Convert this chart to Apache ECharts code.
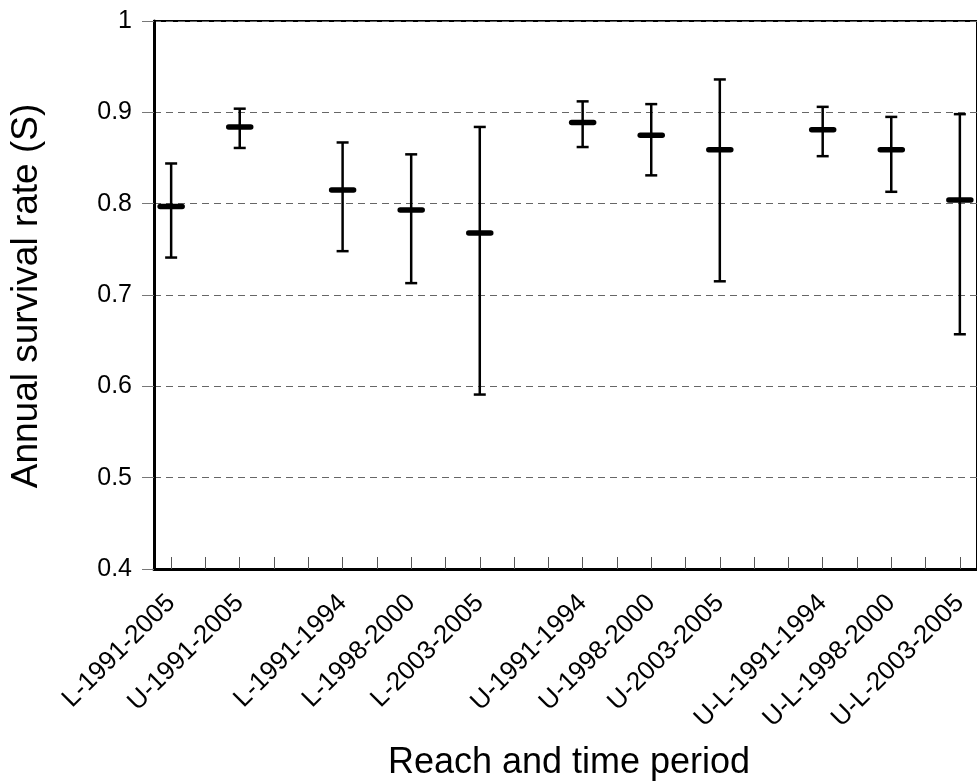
<!DOCTYPE html>
<html>
<head>
<meta charset="utf-8">
<script src="https://cdn.jsdelivr.net/npm/echarts@6/dist/echarts.min.js"></script>
<style>
html,body{margin:0;padding:0;background:#fff;}
#chart{width:977px;height:782px;}
</style>
</head>
<body>
<div id="chart"></div>
<script>
// Category slots (blank slots create the gaps between groups)
const categories = [
  'L-1991-2005','', 'U-1991-2005','','',
  'L-1991-1994','', 'L-1998-2000','', 'L-2003-2005','','',
  'U-1991-1994','', 'U-1998-2000','', 'U-2003-2005','','',
  'U-L-1991-1994','', 'U-L-1998-2000','', 'U-L-2003-2005'
];
const groups = ['L-1991-2005','U-1991-2005','L-1991-1994','L-1998-2000','L-2003-2005',
  'U-1991-1994','U-1998-2000','U-2003-2005','U-L-1991-1994','U-L-1998-2000','U-L-2003-2005'];
const estimates = [0.797, 0.884, 0.815, 0.793, 0.768, 0.889, 0.875, 0.859, 0.881, 0.859, 0.804];
const lowerCI  = [0.741, 0.861, 0.748, 0.713, 0.591, 0.862, 0.831, 0.715, 0.852, 0.813, 0.657];
const upperCI  = [0.844, 0.904, 0.867, 0.854, 0.884, 0.912, 0.909, 0.936, 0.906, 0.895, 0.898];
const yTicks = [0.4, 0.5, 0.6, 0.7, 0.8, 0.9, 1];

const data = groups.map((g, i) => [categories.indexOf(g), lowerCI[i], upperCI[i], estimates[i]]);

const FONT = '"Liberation Sans", Arial, sans-serif';
const chart = echarts.init(document.getElementById('chart'));
chart.setOption({
  animation: false,
  backgroundColor: '#fff',
  grid: { left: 154, top: 21, width: 828, height: 548, show: true, borderColor: '#000', borderWidth: 2, backgroundColor: 'transparent' },
  xAxis: {
    type: 'category',
    data: categories,
    boundaryGap: true,
    axisLine: { lineStyle: { color: '#000', width: 3 } },
    axisTick: { show: true, inside: true, length: 12, alignWithLabel: true, interval: 0, lineStyle: { color: '#555', width: 1 } },
    axisLabel: { interval: 0, rotate: 45, margin: 30, fontSize: 26, color: '#000', fontFamily: FONT },
    splitLine: { show: false }
  },
  yAxis: {
    type: 'value',
    min: 0.4, max: 1, interval: 0.1,
    axisLine: { show: true, lineStyle: { color: '#000', width: 3 } },
    axisTick: { show: true, inside: false, length: 12, lineStyle: { color: '#777', width: 1 } },
    axisLabel: { margin: 22, fontSize: 25, color: '#000', fontFamily: FONT,
      formatter: v => { const r = Math.round(v * 10) / 10; return r === 1 ? '1' : r.toFixed(1); } },
    splitLine: { show: true, lineStyle: { color: '#666', type: [7, 5], width: 1 } }
  },
  series: [{
    type: 'custom',
    data: data,
    encode: { x: 0, y: [1, 2, 3] },
    renderItem: function (params, api) {
      const idx = api.value(0);
      const lo = api.coord([idx, api.value(1)]);
      const hi = api.coord([idx, api.value(2)]);
      const me = api.coord([idx, api.value(3)]);
      const cap = 6, mw = 11;
      const ls = { stroke: '#000', lineWidth: 2.5 };
      return {
        type: 'group',
        children: [
          { type: 'line', shape: { x1: lo[0], y1: lo[1], x2: hi[0], y2: hi[1] }, style: ls },
          { type: 'line', shape: { x1: hi[0] - cap, y1: hi[1], x2: hi[0] + cap, y2: hi[1] }, style: ls },
          { type: 'line', shape: { x1: lo[0] - cap, y1: lo[1], x2: lo[0] + cap, y2: lo[1] }, style: ls },
          { type: 'line', shape: { x1: me[0] - mw, y1: me[1], x2: me[0] + mw, y2: me[1] }, style: { stroke: '#000', lineWidth: 5.5, lineCap: 'round' } }
        ]
      };
    }
  }],
  graphic: [
    { type: 'text', x: 569, y: 763,
      style: { text: 'Reach and time period', fontSize: 36, fontFamily: FONT, fill: '#000', align: 'center', verticalAlign: 'middle' } },
    { type: 'text', x: 27, y: 296, rotation: Math.PI / 2,
      style: { text: 'Annual survival rate (S)', fontSize: 37, fontFamily: FONT, fill: '#000', align: 'center', verticalAlign: 'middle' } }
  ]
});
</script>
</body>
</html>
